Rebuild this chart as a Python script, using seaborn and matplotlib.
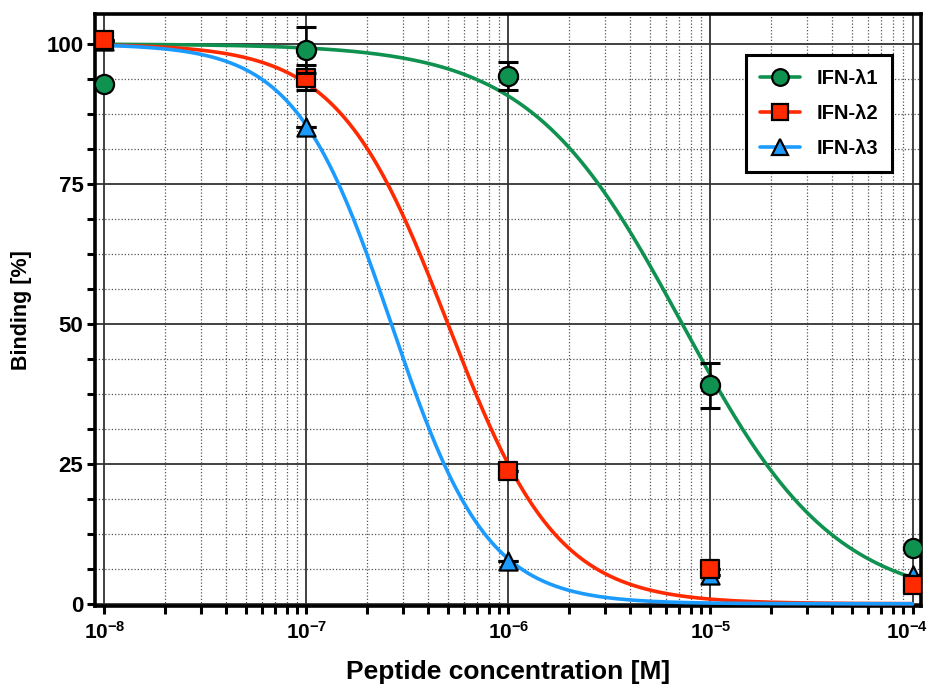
import numpy as np
import pandas as pd
import matplotlib
matplotlib.use("Agg")
import matplotlib.pyplot as plt
import seaborn as sns
from matplotlib.ticker import FixedLocator, MultipleLocator, NullFormatter
from matplotlib.lines import Line2D
from matplotlib.transforms import ScaledTranslation

# ---- data ----
conc = [1e-8, 1e-7, 1e-6, 1e-5, 1e-4]
series_names = ["IFN-λ1", "IFN-λ2", "IFN-λ3"]
ifn1 = [92.8, 98.9, 94.2, 39.0, 10.0]
ifn1_err = [0.0, 4.1, 2.5, 4.0, 0.0]
ifn2 = [100.7, 94.0, 23.8, 6.2, 3.3]
ifn2_err = [0.0, 2.3, 0.0, 0.0, 0.0]
ifn3 = [100.5, 85.2, 7.7, 5.2, 5.2]
ifn3_err = [0.0, 0.0, 0.0, 0.0, 0.0]
# sigmoidal dose-response fit parameters (top 100, bottom 0)
fit_logic50 = [-5.14, -6.30, -6.58]
fit_hill = [1.15, 1.60, 1.83]

y_ticks = [0, 25, 50, 75, 100]
x_ticks = [1e-8, 1e-7, 1e-6, 1e-5, 1e-4]
x_tick_labels = [r"$\mathbf{10^{-8}}$", r"$\mathbf{10^{-7}}$", r"$\mathbf{10^{-6}}$",
                 r"$\mathbf{10^{-5}}$", r"$\mathbf{10^{-4}}$"]

colors = ["#0f9150", "#ff2a00", "#1c9bff"]
markers = ["o", "s", "^"]

sns.set_theme(style="white")
plt.rcParams["font.family"] = ["Liberation Sans", "DejaVu Sans"]
plt.rcParams["font.weight"] = "bold"
plt.rcParams["mathtext.fontset"] = "custom"
plt.rcParams["mathtext.rm"] = "Liberation Sans:bold"
plt.rcParams["mathtext.bf"] = "Liberation Sans:bold"
plt.rcParams["mathtext.it"] = "Liberation Sans:bold"
for key in ["text.color", "axes.labelcolor", "xtick.color", "ytick.color", "xtick.labelcolor", "ytick.labelcolor"]:
    plt.rcParams[key] = "black"

fig = plt.figure(figsize=(9.3, 6.86), dpi=100)
ax = fig.add_axes([94.6 / 930, 1 - 606 / 686, (921 - 94.6) / 930, (606 - 14) / 686])

# fitted curves
xfit = np.logspace(-8, -4, 400)
rows = []
for name, lc, h in zip(series_names, fit_logic50, fit_hill):
    yfit = 100.0 / (1.0 + 10 ** (h * (np.log10(xfit) - lc)))
    rows.append(pd.DataFrame({"conc": xfit, "binding": yfit, "series": name}))
curves = pd.concat(rows, ignore_index=True)
sns.lineplot(data=curves, x="conc", y="binding", hue="series",
             hue_order=series_names, palette=colors, linewidth=2.6,
             legend=False, ax=ax, zorder=3)

# data points + error bars
values = [ifn1, ifn2, ifn3]
errors = [ifn1_err, ifn2_err, ifn3_err]
zorders = [7, 6, 5]
sizes = [190, 150, 170]
for name, vals, errs, c, m, z, s in zip(series_names, values, errors, colors, markers, zorders, sizes):
    pts = pd.DataFrame({"conc": conc, "binding": vals})
    ax.errorbar(conc, vals, yerr=errs, fmt="none", ecolor="black",
                elinewidth=1.8, capsize=7, capthick=2.2, zorder=z - 0.5)
    sns.scatterplot(data=pts, x="conc", y="binding", marker=m, s=s, color=c,
                    edgecolor="black", linewidth=1.6, ax=ax, zorder=z, legend=False)

ax.set_xscale("log")
ax.set_xlim(10 ** -8.0486, 10 ** -3.958)
ax.set_ylim(-0.4, 105.36)

ax.set_xticks(x_ticks)
ax.set_xticklabels(x_tick_labels)
minor_x = [m * 10.0 ** e for e in range(-8, -4) for m in range(2, 10)]
ax.xaxis.set_minor_locator(FixedLocator(minor_x))
ax.xaxis.set_minor_formatter(NullFormatter())
ax.set_yticks(y_ticks)
ax.yaxis.set_minor_locator(MultipleLocator(6.25))

ax.set_axisbelow(True)
ax.grid(which="major", color="#333333", linewidth=1.3, linestyle="-")
ax.grid(which="minor", color="#555555", linewidth=0.9, linestyle=(0, (1, 1.6)))

for sp in ax.spines.values():
    sp.set_visible(True)
    sp.set_color("black")
    sp.set_linewidth(2.6)

ax.tick_params(axis="both", which="major", direction="out", length=6, width=2.2,
               color="black", labelcolor="black", pad=3, left=True, bottom=True)
ax.tick_params(axis="both", which="minor", direction="out", length=6, width=2.2,
               color="black", left=True, bottom=True)
ax.tick_params(axis="x", which="major", labelsize=15, pad=5)
ax.tick_params(axis="y", which="major", labelsize=16, pad=2)
for lbl in ax.get_yticklabels():
    lbl.set_fontweight("bold")

ax.set_xlabel("Peptide concentration [M]", fontsize=19, fontweight="bold", labelpad=12)
ax.set_ylabel("Binding [%]", fontsize=15.5, fontweight="bold", labelpad=10)

handles = [Line2D([], [], color=c, linewidth=2.6, marker=m, markersize=12,
                  markerfacecolor=c, markeredgecolor="black", markeredgewidth=1.6)
           for c, m in zip(colors, markers)]
leg = ax.legend(handles, series_names, loc="upper right", bbox_to_anchor=(0.965, 0.931),
                borderaxespad=0, fontsize=14.5, frameon=True, fancybox=False, framealpha=1,
                edgecolor="black", handlelength=2.0, handletextpad=0.8,
                labelspacing=0.8, borderpad=0.7)
leg.get_frame().set_linewidth(2.2)
for t in leg.get_texts():
    t.set_fontweight("bold")
    t.set_color("black")
leg.set_zorder(10)

# keep the last x tick label inside the canvas
fig.canvas.draw()
last = ax.get_xticklabels()[-1]
last.set_transform(last.get_transform() + ScaledTranslation(-4 / 72, 0, fig.dpi_scale_trans))

fig.savefig("out.png", dpi=100)
